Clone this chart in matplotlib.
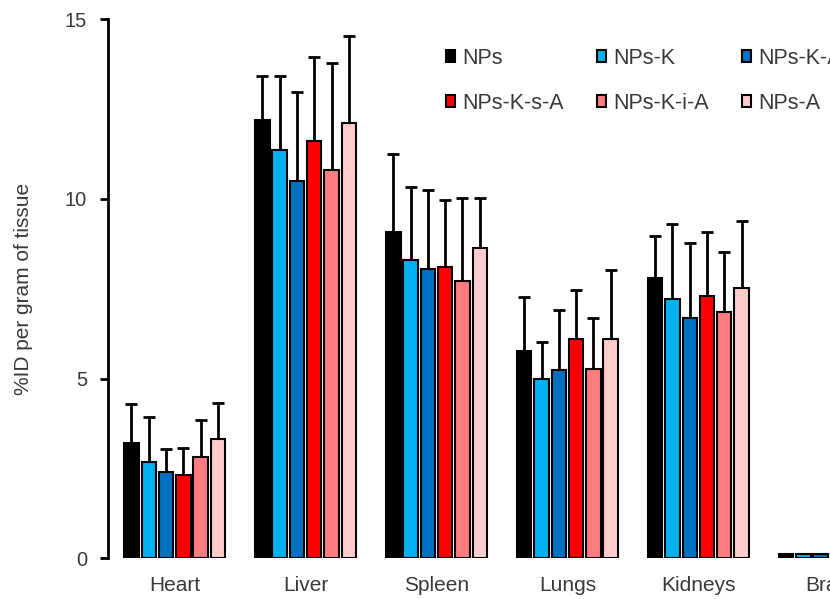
import numpy as np
import matplotlib.pyplot as plt
from matplotlib.patches import Patch

# --- Data ---
organs = ["Heart", "Liver", "Spleen", "Lungs", "Kidneys", "Brain"]
series = ["NPs", "NPs-K", "NPs-K-A", "NPs-K-s-A", "NPs-K-i-A", "NPs-A"]
colors = ["#000000", "#00B0F0", "#0070C0", "#FF0000", "#FF7C80", "#FFCCCC"]

means = {
    "NPs":       [3.20, 12.19, 9.07, 5.76, 7.79, 0.12],
    "NPs-K":     [2.67, 11.36, 8.29, 4.98, 7.21, 0.12],
    "NPs-K-A":   [2.39, 10.49, 8.04, 5.23, 6.68, 0.12],
    "NPs-K-s-A": [2.31, 11.60, 8.10, 6.10, 7.29, 0.12],
    "NPs-K-i-A": [2.81, 10.80, 7.71, 5.26, 6.85, 0.12],
    "NPs-A":     [3.31, 12.10, 8.63, 6.10, 7.51, 0.12],
}
# upper error bar tips
tops = {
    "NPs":       [4.29, 13.41, 11.24, 7.26, 8.96, 0.12],
    "NPs-K":     [3.92, 13.41, 10.33, 6.01, 9.30, 0.12],
    "NPs-K-A":   [3.03, 12.97, 10.24, 6.90, 8.77, 0.12],
    "NPs-K-s-A": [3.06, 13.94, 9.96, 7.46, 9.07, 0.12],
    "NPs-K-i-A": [3.84, 13.78, 10.02, 6.68, 8.52, 0.12],
    "NPs-A":     [4.31, 14.53, 10.02, 8.02, 9.38, 0.12],
}

TEXT = "#3a3a3a"
plt.rcParams['font.family'] = ['Liberation Sans', 'DejaVu Sans']

fig = plt.figure(figsize=(8.30, 5.99), dpi=100)
# axes runs past the right edge, like the cropped original
ax = fig.add_axes([0.130, 0.068, 0.948, 0.900])

x = np.arange(len(organs))
step = 0.132
handles = []
for i, name in enumerate(series):
    m = np.array(means[name])
    err = np.array(tops[name]) - m
    pos = x + (i - 2.5) * step
    ax.bar(pos, m, width=0.11, color=colors[i], edgecolor="black", linewidth=1.5, zorder=2)
    ax.errorbar(pos, m, yerr=[np.zeros_like(err), err], fmt="none", ecolor="black",
                elinewidth=2, capsize=4.5, capthick=2, zorder=1)
    handles.append(Patch(facecolor=colors[i], edgecolor="black", linewidth=1.5, label=name))

ax.set_xlim(-0.51, 5.5)
ax.set_ylim(0, 15)
ax.set_yticks([0, 5, 10, 15])
ax.set_xticks(x)
ax.set_xticklabels(organs, fontsize=15, color=TEXT)
ax.tick_params(axis="x", length=0, pad=13)
ax.tick_params(axis="y", length=6, width=2, labelsize=14.5, labelcolor=TEXT, pad=9)
ax.set_ylabel("%ID per gram of tissue", fontsize=15, color=TEXT, labelpad=23)
for s in ["top", "right", "bottom"]:
    ax.spines[s].set_visible(False)
ax.spines["left"].set_linewidth(2)

# legend: 2 rows x 3 columns, filled row-wise
order = [0, 3, 1, 4, 2, 5]
ax.legend([handles[k] for k in order], [series[k] for k in order], ncol=3,
          loc="upper left", bbox_to_anchor=(0.537, 0.92), bbox_transform=fig.transFigure,
          frameon=False, fontsize=15.5, labelcolor=TEXT, borderpad=0, borderaxespad=0,
          handlelength=0.42, handleheight=0.5, handletextpad=0.37,
          columnspacing=1.5, labelspacing=1.1)

fig.savefig("out.png", dpi=100)
